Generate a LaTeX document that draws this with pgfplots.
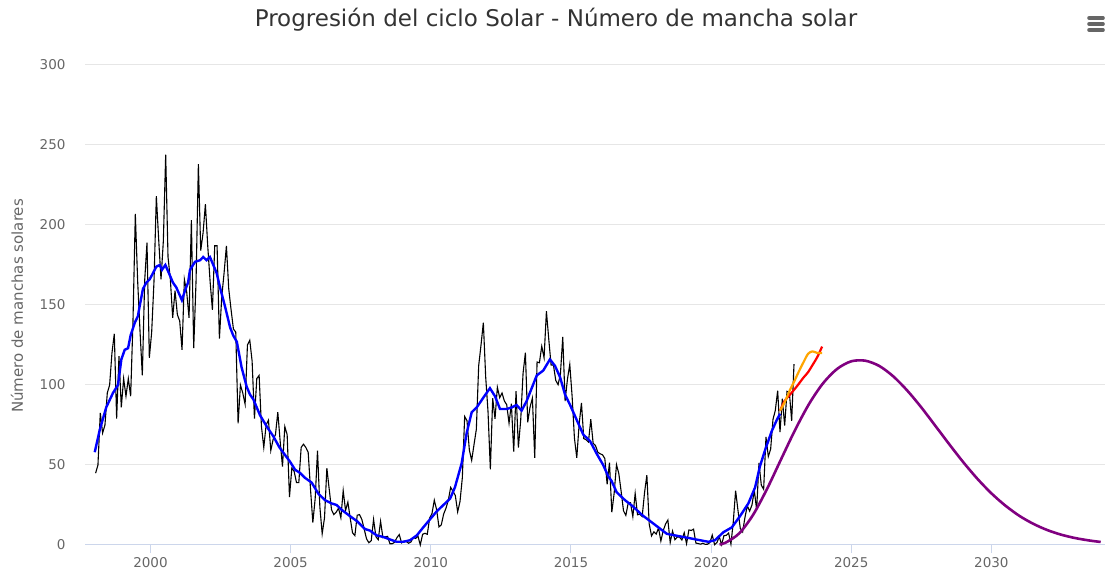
\documentclass[border=0pt]{standalone}
\usepackage{fontspec}
\setmainfont{DejaVu Sans}
\usepackage{pgfplots}
\usepackage{pgfplotstable}
\pgfplotsset{compat=1.18}
\definecolor{gridc}{HTML}{E6E6E6}
\definecolor{axisc}{HTML}{CCD6EB}
\definecolor{labc}{HTML}{666666}
\definecolor{titc}{HTML}{333333}
\definecolor{purp}{HTML}{800080}
\definecolor{oran}{HTML}{FFA500}

% monthly sunspot number, Jan 1998 ... Dec 2022
\pgfplotstableread{
v
44.9
50.0
82.6
70.0
75.0
95.0
100.0
120.0
132.0
79.0
118.0
86.0
104.0
93.0
104.0
93.0
140.0
207.0
165.0
134.0
106.0
165.0
189.0
117.0
133.0
165.0
218.0
191.0
166.0
190.0
244.0
180.0
166.0
142.0
159.0
144.0
140.0
122.0
166.0
158.0
142.0
203.0
123.0
165.0
238.0
184.0
195.0
213.0
187.0
165.0
147.0
187.0
187.0
129.0
155.0
170.0
187.0
160.0
147.0
135.0
133.0
76.0
100.0
95.0
88.0
125.0
128.0
115.0
79.0
104.0
106.0
74.0
61.0
75.0
78.0
59.0
66.0
69.0
83.0
65.0
49.0
74.0
69.0
30.0
48.0
46.0
39.0
39.0
61.0
63.0
61.0
58.0
35.0
14.0
29.0
59.0
24.0
7.0
17.0
48.0
35.0
22.0
19.0
20.5
23.0
17.0
34.0
21.6
26.8
16.8
7.6
5.9
18.6
19.0
15.9
9.8
3.8
1.4
2.7
16.0
5.2
3.3
14.8
4.6
5.1
5.4
0.8
0.8
1.7
4.6
6.5
1.3
2.4
2.2
1.1
1.9
4.6
4.1
5.6
0.0
6.7
7.3
6.7
16.8
19.6
28.0
22.0
11.3
12.6
19.3
23.0
28.0
36.0
33.6
30.9
20.7
27.1
42.0
80.3
77.7
59.4
52.9
62.7
72.3
112.0
125.0
139.0
105.0
83.3
47.3
91.7
78.9
98.6
92.1
95.0
90.0
87.7
76.1
88.3
58.3
96.1
60.9
78.3
107.3
120.2
76.7
86.2
91.8
54.5
114.4
113.9
124.2
117.0
146.1
128.7
112.5
112.5
102.9
100.2
106.9
130.0
90.0
103.6
112.9
93.0
66.7
54.5
75.3
88.8
66.5
65.8
64.4
78.6
63.6
62.2
58.0
57.0
56.4
54.1
37.9
51.5
20.5
32.4
50.2
44.6
33.4
21.4
18.5
26.1
26.4
17.7
32.3
18.9
19.2
17.8
32.6
43.7
13.2
5.7
8.2
6.8
10.7
2.5
8.9
13.1
15.6
1.6
8.7
3.3
4.9
4.9
3.1
7.7
0.8
9.4
9.1
9.9
1.2
0.9
0.5
1.1
0.4
0.5
1.5
6.2
0.2
1.5
5.2
0.2
5.8
6.1
7.5
0.6
14.4
34.0
21.8
10.4
8.2
17.2
24.5
21.2
25.0
34.2
22.0
51.3
37.4
34.8
67.5
55.3
59.9
78.5
84.1
96.5
70.5
91.4
74.6
96.0
95.5
77.6
113.1
}\monthly

% smoothed sunspot number
\pgfplotstableread{
t v
1998.01 58
1998.19 72
1998.42 86
1998.66 95
1998.84 100
1998.96 116
1999.08 122
1999.20 123
1999.29 131
1999.44 139
1999.55 143
1999.61 149
1999.73 160
1999.85 164
1999.97 166
2000.09 170
2000.21 174
2000.33 175
2000.41 172
2000.53 175
2000.68 169
2000.80 164
2000.92 161
2001.12 153
2001.23 159
2001.34 164
2001.41 172
2001.59 177
2001.77 178
2001.88 180
2002.00 178
2002.12 180
2002.24 175
2002.36 170
2002.48 161
2002.66 149
2002.84 136
2002.95 131
2003.08 127
2003.25 111
2003.43 99
2003.55 94
2003.67 91
2003.91 81
2004.15 74
2004.38 68
2004.60 61
2004.98 52
2005.16 47
2005.34 45
2005.51 42
2005.75 39
2005.99 32
2006.23 28
2006.46 26
2006.64 25
2006.82 22
2007.12 18
2007.36 15
2007.65 10
2007.83 9
2008.07 6
2008.31 5
2008.54 3.5
2008.78 2
2009.02 2
2009.26 3
2009.50 6
2009.73 11
2009.97 16
2010.21 21
2010.45 25
2010.69 29
2010.86 36
2011.10 51
2011.28 70
2011.46 83
2011.64 86
2011.87 92
2012.11 98
2012.29 93
2012.47 85
2012.71 85
2012.89 86
2013.06 87.5
2013.24 84
2013.42 90
2013.60 98
2013.78 106
2014.01 109
2014.25 116
2014.43 112
2014.61 105
2014.79 94
2014.97 87.5
2015.21 78
2015.44 69
2015.68 65
2015.92 57
2016.15 50
2016.33 43
2016.45 40
2016.63 33
2016.93 28
2017.22 24
2017.52 19
2017.82 15
2018.12 11
2018.42 7
2018.71 6
2019.01 5
2019.31 4
2019.60 3
2019.90 2
2020.14 3
2020.44 8
2020.74 11
2021.03 18
2021.33 26
2021.57 36
2021.74 49
2021.92 59
2022.16 71
2022.34 78
2022.46 82
}\smoothed

\pgfplotstableread{
t v
2020.3 0.4
2020.5 1.3
2021.0 7.2
2021.5 18.9
2022.0 35.2
2022.5 53.7
2023.0 72.0
2023.5 88.3
2024.0 101.2
2024.5 110.1
2025.0 114.8
2025.5 115.2
2026.0 111.9
2026.5 105.4
2027.0 96.5
2027.5 86.0
2028.0 74.5
2028.5 62.9
2029.0 51.7
2029.5 41.4
2030.0 32.3
2030.5 24.6
2031.0 18.2
2031.5 13.2
2032.0 9.3
2032.5 6.4
2033.0 4.3
2033.5 2.8
2033.9 1.9
}\predicted

\pgfplotstableread{
t v
2022.46 84
2022.62 90
2022.79 93.5
2022.96 97
2023.12 100.5
2023.29 104.5
2023.46 108
2023.62 112.5
2023.79 117.5
2023.96 124
}\redpred

\pgfplotstableread{
t v
2022.46 84
2022.62 89
2022.79 96
2022.96 102
2023.12 108
2023.29 114
2023.46 119.5
2023.62 121
2023.79 120
2023.96 120
}\orangepred

\begin{document}
\begin{tikzpicture}[x=1pt,y=1pt]
\begin{axis}[
  at={(85pt,30pt)}, anchor=south west,
  scale only axis, width=1020pt, height=480pt,
  xmin=1997.663, xmax=2034.053, ymin=0, ymax=300,
  axis x line*=bottom, axis y line*=left,
  x axis line style={draw=axisc, line width=1pt, -},
  y axis line style={draw=none},
  xtick={2000,2005,...,2030},
  ytick={0,50,...,300},
  xticklabel={\pgfmathprintnumber[fixed,1000 sep={}]{\tick}},
  tick align=outside,
  major tick length=8pt,
  x tick style={draw=axisc, line width=1pt},
  y tick style={draw=none},
  ymajorgrids,
  major grid style={draw=gridc, line width=1pt},
  /pgf/number format/assume math mode=true,
  ticklabel style={font=\fontsize{13.5}{14}\selectfont, text=labc},
  yticklabel style={xshift=-8pt},
  xticklabel style={yshift=-1pt},
  clip=false,
]
\addplot[black, line width=1.1pt] table[x expr={1998+(\coordindex+0.5)/12}, y=v] {\monthly};
\addplot[blue, line width=2.4pt] table[x=t, y=v] {\smoothed};
\addplot[purp, line width=2.6pt, smooth] table[x=t, y=v] {\predicted};
\addplot[red, line width=2.2pt, smooth] table[x=t, y=v] {\redpred};
\addplot[oran, line width=2.2pt, smooth] table[x=t, y=v] {\orangepred};
\end{axis}
\node[anchor=base, text=titc, font=\fontsize{23}{26}\selectfont] at (556pt,548pt) {Progresión del ciclo Solar - Número de mancha solar};
\node[rotate=90, anchor=center, text=labc, font=\fontsize{15}{17}\selectfont] at (17pt,269pt) {Número de manchas solares};
\foreach \yy in {557,551,545} {
  \draw[labc, line width=3.6pt, line cap=round] (1089pt,\yy pt) -- (1103pt,\yy pt);
}
\pgfresetboundingbox
\useasboundingbox (0,0) rectangle (1108pt,575pt);
\end{tikzpicture}
\end{document}
